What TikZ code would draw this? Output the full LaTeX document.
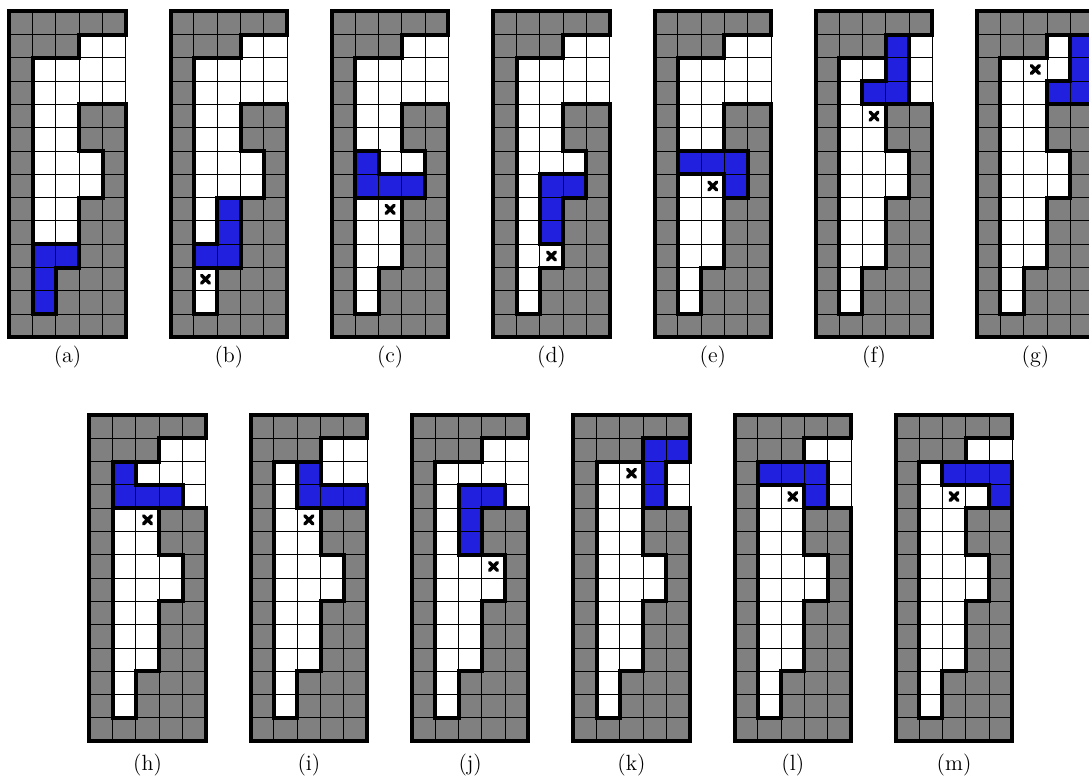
\documentclass[tikz,border=0pt]{standalone}
\definecolor{cellgray}{RGB}{128,128,128}
\definecolor{cellblue}{RGB}{32,32,222}
\tikzset{
  thinline/.style={line width=0.5pt, black},
  thickline/.style={line width=2pt, black, line join=miter},
  xmark/.style={line width=1.7pt, black, line cap=round},
  panellabel/.style={font=\fontsize{11}{13}\selectfont, inner sep=0pt}
}
\newcommand{\gridpanel}[4]{%
  \begin{scope}[shift={(#1,#2)}, x=11.65pt, y=-11.65pt]
    \fill[cellgray] (0,0) rectangle (5,14);
    \fill[white] (3,1) -- (5,1) -- (5,4) -- (3,4) -- (3,6) -- (4,6) -- (4,8) -- (3,8) -- (3,11) -- (2,11) -- (2,13) -- (1,13) -- (1,2) -- (3,2) -- cycle;
    \fill[cellblue] #3;
    \foreach \i in {1,...,4} \draw[thinline] (\i,0) -- (\i,14);
    \foreach \j in {1,...,13} \draw[thinline] (0,\j) -- (5,\j);
    \draw[thinline] (0,0) rectangle (5,14);
    \draw[thickline] (5,1) -- (3,1) -- (3,2) -- (1,2) -- (1,13) -- (2,13) -- (2,11) -- (3,11) -- (3,8) -- (4,8) -- (4,6) -- (3,6) -- (3,4) -- (5,4) -- (5,14) -- (0,14) -- (0,0) -- (5,0) -- cycle;
    \draw[thickline] #3;
    #4
  \end{scope}}
\newcommand{\xcell}[2]{%
  \begin{scope}[shift={(#1,#2)}]
    \draw[xmark] (0.33,0.33) -- (0.67,0.67) (0.67,0.33) -- (0.33,0.67);
  \end{scope}}
\begin{document}
\begin{tikzpicture}[x=0.5pt, y=-0.5pt]
  \clip (0,0) rectangle (1089,781);
  % top row
  \gridpanel{9.3}{11.3}{(1,10) -- (3,10) -- (3,11) -- (2,11) -- (2,13) -- (1,13) -- cycle}{}
  \gridpanel{170.6}{11.3}{(2,8) -- (3,8) -- (3,11) -- (1,11) -- (1,10) -- (2,10) -- cycle}{\xcell{1}{11}}
  \gridpanel{331.9}{11.3}{(1,6) -- (2,6) -- (2,7) -- (4,7) -- (4,8) -- (1,8) -- cycle}{\xcell{2}{8}}
  \gridpanel{493.2}{11.3}{(2,7) -- (4,7) -- (4,8) -- (3,8) -- (3,10) -- (2,10) -- cycle}{\xcell{2}{10}}
  \gridpanel{654.5}{11.3}{(1,6) -- (4,6) -- (4,8) -- (3,8) -- (3,7) -- (1,7) -- cycle}{\xcell{2}{7}}
  \gridpanel{815.8}{11.3}{(3,1) -- (4,1) -- (4,4) -- (2,4) -- (2,3) -- (3,3) -- cycle}{\xcell{2}{4}}
  \gridpanel{977.1}{11.3}{(4,1) -- (5,1) -- (5,4) -- (3,4) -- (3,3) -- (4,3) -- cycle}{\xcell{2}{2}}
  % bottom row
  \gridpanel{89.3}{415}{(1,2) -- (2,2) -- (2,3) -- (4,3) -- (4,4) -- (1,4) -- cycle}{\xcell{2}{4}}
  \gridpanel{250.6}{415}{(2,2) -- (3,2) -- (3,3) -- (5,3) -- (5,4) -- (2,4) -- cycle}{\xcell{2}{4}}
  \gridpanel{411.9}{415}{(2,3) -- (4,3) -- (4,4) -- (3,4) -- (3,6) -- (2,6) -- cycle}{\xcell{3}{6}}
  \gridpanel{573.2}{415}{(3,1) -- (5,1) -- (5,2) -- (4,2) -- (4,4) -- (3,4) -- cycle}{\xcell{2}{2}}
  \gridpanel{734.5}{415}{(1,2) -- (4,2) -- (4,4) -- (3,4) -- (3,3) -- (1,3) -- cycle}{\xcell{2}{3}}
  \gridpanel{895.8}{415}{(2,2) -- (5,2) -- (5,4) -- (4,4) -- (4,3) -- (2,3) -- cycle}{\xcell{2}{3}}
  % labels
  \node[panellabel] (la) at (67.6,357) {(a)};
  \node[panellabel] (lb) at (228.9,357) {(b)};
  \node[panellabel] (lc) at (390.2,357) {(c)};
  \node[panellabel] (ld) at (551.5,357) {(d)};
  \node[panellabel] (le) at (712.8,357) {(e)};
  \node[panellabel] (lf) at (874.1,357) {(f)};
  \node[panellabel] (lg) at (1035.4,357) {(g)};
  \node[panellabel] (lh) at (147.6,765) {(h)};
  \node[panellabel] (li) at (308.9,765) {(i)};
  \node[panellabel] (lj) at (470.2,765) {(j)};
  \node[panellabel] (lk) at (631.5,765) {(k)};
  \node[panellabel] (ll) at (792.8,765) {(l)};
  \node[panellabel] (lm) at (954.1,765) {(m)};
\end{tikzpicture}
\end{document}
